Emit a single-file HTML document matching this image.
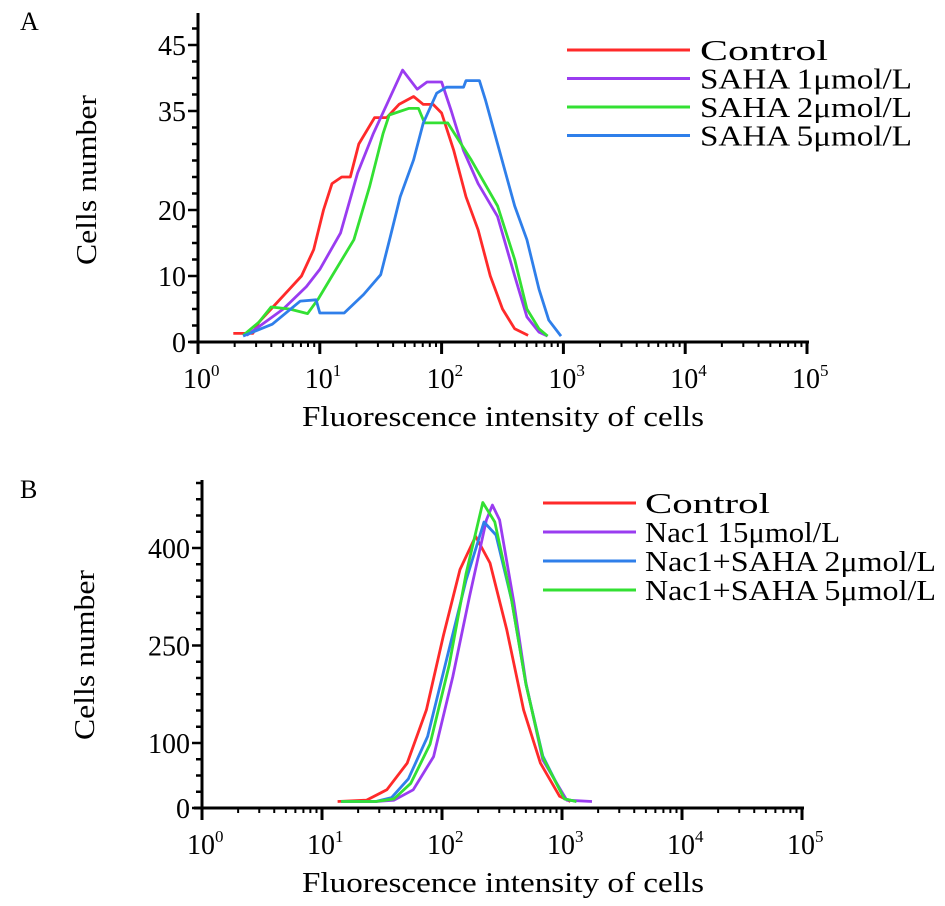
<!DOCTYPE html>
<html><head><meta charset="utf-8"><style>
html,body{margin:0;padding:0;background:#fff;}
svg{display:block;font-family:"Liberation Serif",serif;}
</style></head><body>
<svg id="fig" width="945" height="906" viewBox="0 0 945 906" xmlns="http://www.w3.org/2000/svg">
<text x="20" y="30" font-size="26">A</text>
<text x="20" y="498" font-size="26">B</text>
<g id="pa"></g>
<g id="pb"></g>
</svg>
<script>
// Panel A data (x as log10 fluorescence, y as cell counts)
const aSeriesNames = ["Control","SAHA 1μmol/L","SAHA 2μmol/L","SAHA 5μmol/L"];
const aColors = ["#ff2a2a","#9a3cf0","#33e033","#2f7fea"];
const aControlX = [0.29,0.45,0.5,0.6,0.75,0.85,0.95,1.03,1.1,1.18,1.25,1.32,1.45,1.55,1.65,1.77,1.85,1.93,2.0,2.1,2.2,2.3,2.4,2.5,2.6,2.71];
const aControlY = [1.3,1.3,3,5,8,10,14,20,24,25,25,30,34,34,36,37.2,36,36,34.7,29,22,17,10,5,2,1];
const aSaha1X = [0.4,0.55,0.7,0.89,1.0,1.17,1.31,1.44,1.55,1.68,1.8,1.88,2.0,2.08,2.18,2.3,2.46,2.6,2.7,2.8,2.87];
const aSaha1Y = [1,3,5,8.4,11,16.5,25.6,31.6,36,41.2,38.3,39.4,39.4,35,29,24,19,10,3.8,1.5,0.9];
const aSaha2X = [0.37,0.5,0.6,0.75,0.9,0.99,1.1,1.28,1.41,1.52,1.57,1.73,1.81,1.86,2.05,2.24,2.46,2.6,2.7,2.8,2.87];
const aSaha2Y = [1,3,5.3,5,4.3,6.6,10,15.5,23.6,31.6,34.4,35.4,35.4,33.2,33.2,27.7,20.6,12.5,5,2,0.9];
const aSaha5X = [0.37,0.61,0.84,0.97,1.0,1.2,1.36,1.5,1.58,1.66,1.77,1.85,1.96,2.04,2.18,2.2,2.31,2.36,2.46,2.6,2.7,2.8,2.88,2.98];
const aSaha5Y = [0.9,2.7,6.2,6.4,4.4,4.4,7.2,10.2,16,22,27.6,33.2,37.7,38.6,38.6,39.6,39.6,36.7,30,20.6,15.5,8,3.3,0.9];
const aYTicks = [0,10,20,35,45];
const xDecades = [0,1,2,3,4,5];

// Panel B data
const bSeriesNames = ["Control","Nac1 15μmol/L","Nac1+SAHA 2μmol/L","Nac1+SAHA 5μmol/L"];
const bColors = ["#ff2a2a","#9a3cf0","#2f7fea","#33e033"];
const bControlX = [1.13,1.37,1.54,1.71,1.87,2.01,2.15,2.28,2.4,2.54,2.68,2.82,2.98,3.07];
const bControlY = [10,12,28,69,151,264,367,418,377,274,151,69,18,10];
const bNac1X = [1.16,1.45,1.6,1.76,1.93,2.09,2.23,2.37,2.42,2.48,2.6,2.7,2.84,3.04,3.25];
const bNac1Y = [10,10,12,28,79,202,326,443,466,443,315,192,74,12,10];
const bSaha2X = [1.16,1.45,1.58,1.72,1.88,2.04,2.2,2.35,2.45,2.58,2.7,2.84,3.02,3.12];
const bSaha2Y = [10,10,16,45,110,230,350,440,420,320,190,80,14,10];
const bSaha5X = [1.16,1.45,1.6,1.74,1.9,2.06,2.2,2.34,2.44,2.58,2.7,2.84,3.02,3.12];
const bSaha5Y = [10,10,14,38,98,220,360,470,440,320,190,78,14,10];
const bYTicks = [0,100,250,400];

const NS="http://www.w3.org/2000/svg";
function mk(parent,tag,attrs){const e=document.createElementNS(NS,tag);for(const k in attrs)e.setAttribute(k,attrs[k]);parent.appendChild(e);return e;}

function panel(g,cfg){
  const sx=v=>cfg.x0+v*cfg.dec;
  const sy=v=>cfg.y0-v*cfg.ppu;
  cfg.series.forEach((s,i)=>{
    const pts=s.x.map((v,j)=>sx(v).toFixed(1)+","+sy(s.y[j]).toFixed(1)).join(" ");
    const pl=mk(g,"polyline",{points:pts,fill:"none",stroke:cfg.colors[i],"stroke-width":2.8,"stroke-linejoin":"round"});
    
    
  });
  const ya=mk(g,"line",{x1:cfg.x0,y1:cfg.top,x2:cfg.x0,y2:cfg.y0+10,stroke:"#000","stroke-width":3});
  
  
  const xa=mk(g,"line",{x1:cfg.x0-8,y1:cfg.y0,x2:sx(5)+2,y2:cfg.y0,stroke:"#000","stroke-width":3});
  
  
  for(let v=0;sy(v)>=cfg.top;v+=cfg.minor){
    const maj=cfg.yticks.includes(v);
    mk(g,"line",{x1:cfg.x0-(maj?10:6),y1:sy(v),x2:cfg.x0,y2:sy(v),stroke:"#000","stroke-width":2.5});
  }
  cfg.yticks.forEach(v=>{
    const t=mk(g,"text",{x:cfg.x0-12,y:sy(v)+10,"font-size":28,"text-anchor":"end"});
    t.textContent=v;
    
    
  });
  xDecades.forEach(d=>{
    mk(g,"line",{x1:sx(d),y1:cfg.y0,x2:sx(d),y2:cfg.y0+12,stroke:"#000","stroke-width":3});
    if(d<5)for(let m=2;m<10;m++){const xx=sx(d+Math.log10(m));mk(g,"line",{x1:xx,y1:cfg.y0,x2:xx,y2:cfg.y0+5,stroke:"#000","stroke-width":2});}
    const t=mk(g,"text",{x:sx(d)-15,y:cfg.y0+46,"font-size":28});
    
    
    t.textContent="10";
    const s=mk(t,"tspan",{dy:-12,"font-size":17});s.textContent=d;
  });
  const xt=mk(g,"text",{x:302,y:cfg.y0+84,"font-size":28,textLength:402,lengthAdjust:"spacingAndGlyphs"});
  xt.textContent="Fluorescence intensity of cells";
  
  
  const yt=mk(g,"text",{transform:`translate(${cfg.ytx},${cfg.ytc}) rotate(-90)`,"font-size":28,"text-anchor":"middle",textLength:170,lengthAdjust:"spacingAndGlyphs"});
  yt.textContent="Cells number";
  
  
  cfg.names.forEach((n,i)=>{
    const y=cfg.legY+i*cfg.legDy;
    mk(g,"line",{x1:cfg.legX1,y1:y,x2:cfg.legX2,y2:y,stroke:cfg.colors[i],"stroke-width":3});
    const t=mk(g,"text",{x:cfg.legTx,y:y+10,"font-size":28,textLength:cfg.legW[i],lengthAdjust:"spacingAndGlyphs"});
    t.textContent=n;
    
    
  });
}
panel(document.getElementById("pa"),{x0:198,y0:342,dec:121.8,ppu:6.6,top:13,minor:2.5,yticks:aYTicks,
  series:[{x:aControlX,y:aControlY},{x:aSaha1X,y:aSaha1Y},{x:aSaha2X,y:aSaha2Y},{x:aSaha5X,y:aSaha5Y}],
  colors:aColors,keys:["control","saha-1","saha-2","saha-5"],names:aSeriesNames,
  legX1:567,legX2:690,legTx:700,legW:[128,212,212,212],legY:50,legDy:28.5,ytx:96,ytc:180});
panel(document.getElementById("pb"),{x0:202,y0:808,dec:120,ppu:0.65,top:480,minor:25,yticks:bYTicks,
  series:[{x:bControlX,y:bControlY},{x:bNac1X,y:bNac1Y},{x:bSaha2X,y:bSaha2Y},{x:bSaha5X,y:bSaha5Y}],
  colors:bColors,keys:["control","nac1","nac1-saha-2","nac1-saha-5"],names:bSeriesNames,
  legX1:543,legX2:636,legTx:645,legW:[125,195,291,291],legY:503,legDy:29,ytx:94,ytc:655});
</script>
</body></html>
